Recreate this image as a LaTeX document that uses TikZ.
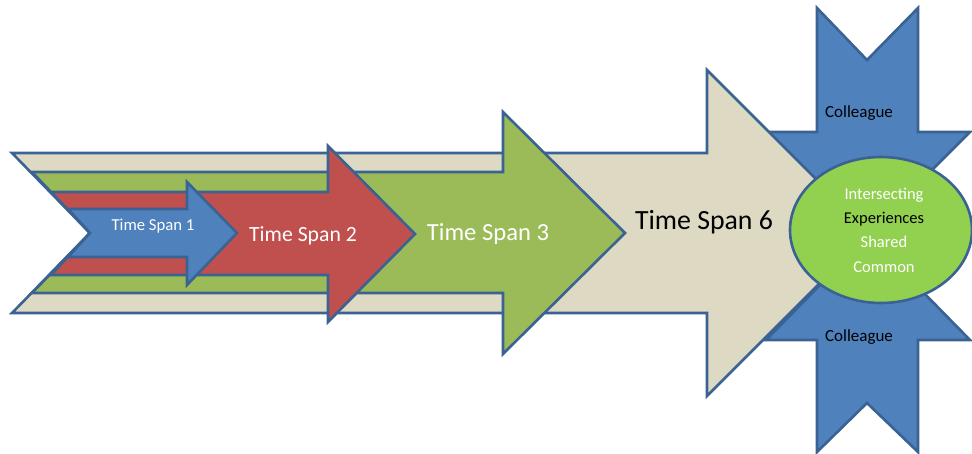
\documentclass[tikz,border=0pt]{standalone}
\usepackage{fontspec}
\setmainfont{Carlito}
\usetikzlibrary{shapes.geometric}
\definecolor{bdr}{HTML}{3A6293}
\definecolor{beige}{HTML}{DDD9C3}
\definecolor{olive}{HTML}{9BBB59}
\definecolor{brick}{HTML}{C0504D}
\definecolor{steel}{HTML}{4F81BD}
\definecolor{lime}{HTML}{92D050}
\tikzset{
  shapebox/.style={draw=bdr, line width=2.6pt, line join=miter},
  lbl/.style={inner sep=0pt, anchor=center},
}
\begin{document}
\begin{tikzpicture}[x=1pt,y=-1pt]
\useasboundingbox (0,0) rectangle (972,454);
% colleague star arms
\draw[shapebox, fill=steel] (817,8) -- (867,60) -- (918,8) -- (918,132) -- (970,132) -- (868,234) -- (766,132) -- (817,132) -- cycle;
\draw[shapebox, fill=steel] (817,452) -- (867,403) -- (918,452) -- (918,340) -- (970,340) -- (868,236) -- (766,340) -- (817,340) -- cycle;
% time span 6
\draw[shapebox, fill=beige] (12,153) -- (707,153) -- (707,70) -- (870,233) -- (707,396) -- (707,313) -- (12,313) -- (90,233) -- cycle;
% time span 3
\draw[shapebox, fill=olive] (32,172) -- (503,172) -- (503,112) -- (625,233) -- (503,354) -- (503,293) -- (32,293) -- (90,233) -- cycle;
% time span 2
\draw[shapebox, fill=brick] (51,192) -- (328,192) -- (328,146) -- (415,234) -- (328,322) -- (328,275) -- (51,275) -- (90,233) -- cycle;
% time span 1
\draw[shapebox, fill=steel] (68,209) -- (187,209) -- (187,182) -- (237,233) -- (187,285) -- (187,257) -- (68,257) -- (90,233) -- cycle;
% ellipse
\node[ellipse, draw=bdr, line width=2.6pt, fill=lime, minimum width=182pt, minimum height=146pt, inner sep=0pt] (core) at (881,230) {};
% labels
\node[lbl, text=white, font=\fontsize{16.7}{18}\selectfont] (t1) at (153,226) {Time Span 1};
\node[lbl, text=white, font=\fontsize{21.7}{24}\selectfont] (t2) at (303,236) {Time Span 2};
\node[lbl, text=white, font=\fontsize{24.6}{28}\selectfont] (t3) at (488,234) {Time Span 3};
\node[lbl, text=black, font=\fontsize{27.8}{30}\selectfont] (t6) at (704,222) {Time Span 6};
\node[lbl, text=black, font=\fontsize{17}{20}\selectfont] (c1) at (859,113) {Colleague};
\node[lbl, text=black, font=\fontsize{17}{20}\selectfont] (c2) at (859,337) {Colleague};
\node[lbl, text=white, font=\fontsize{16.5}{20}\selectfont] (e1) at (884,195) {Intersecting};
\node[lbl, text=black, font=\fontsize{16.5}{20}\selectfont] (e2) at (884,219) {Experiences};
\node[lbl, text=white, font=\fontsize{16.5}{20}\selectfont] (e3) at (884,242) {Shared};
\node[lbl, text=white, font=\fontsize{16.5}{20}\selectfont] (e4) at (884,267) {Common};
\end{tikzpicture}
\end{document}
